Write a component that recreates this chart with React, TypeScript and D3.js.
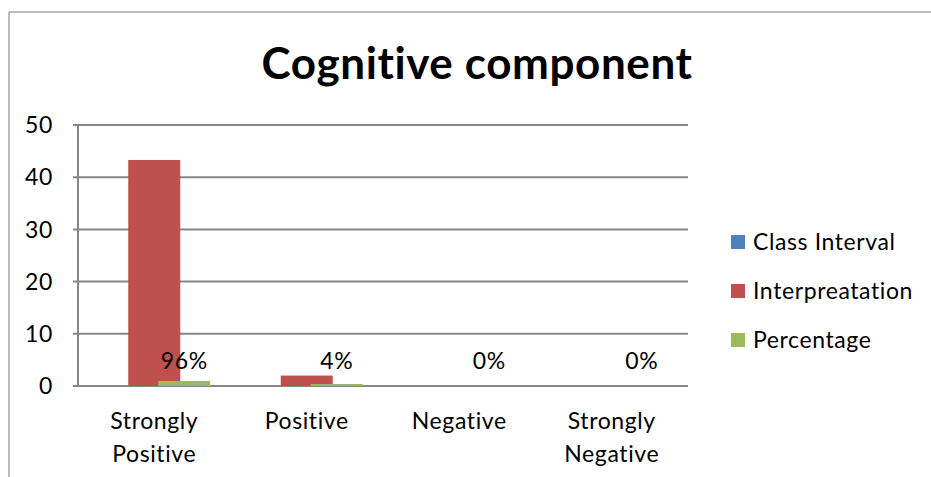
import React from "react";
import * as d3 from "d3";

const categories = ["Strongly Positive", "Positive", "Negative", "Strongly Negative"];
const seriesNames = ["Class Interval", "Interpreatation", "Percentage"];
const classInterval = [0, 0, 0, 0];
const interpretation = [43.3, 2, 0, 0];
const percentage = [0.96, 0.04, 0, 0];
const yTicks = [0, 10, 20, 30, 40, 50];
const colors = ["#4F81BD", "#C0504D", "#9BBB59"];

const W = 931;
const H = 477;
const FONT = "Lato, 'Open Sans', sans-serif";
const txt = { fontFamily: FONT, fontSize: 23, letterSpacing: 0.6, fontVariantLigatures: "none" as const };

export default function App() {
  const left = 78, right = 688, top = 125, bottom = 386;
  const x = d3.scaleBand<string>().domain(categories).range([left, right]).paddingInner(0).paddingOuter(0);
  const y = d3.scaleLinear().domain([0, 50]).range([bottom, top]);
  const series = [classInterval, interpretation, percentage];
  const barW = 52;
  const step = 30;
  const fmt = d3.format(".0%");

  return (
    <svg width={W} height={H} style={{ position: "absolute", left: 0, top: 0, background: "#fff" }}>
      <line x1={9} y1={12} x2={W} y2={12} stroke="#A6A6A6" strokeWidth={1.5} />
      <line x1={9} y1={12} x2={9} y2={H} stroke="#A6A6A6" strokeWidth={1.5} />
      <text x={477} y={79} textAnchor="middle" fontFamily={FONT} fontWeight={700} fontSize={44}
        letterSpacing={0.6} style={{ fontVariantLigatures: "none" }} fill="#000">
        Cognitive component
      </text>
      {yTicks.map((t) => (
        <g key={t}>
          <line x1={left - 5} x2={right} y1={y(t)} y2={y(t)} stroke="#868686" strokeWidth={2} />
          <text x={53} y={y(t)} dy="0.36em" textAnchor="end" style={txt} fill="#000">
            {t}
          </text>
        </g>
      ))}
      <line x1={left} x2={left} y1={top} y2={bottom + 1} stroke="#868686" strokeWidth={2} />
      {series.map((vals, si) =>
        vals.map((v, ci) => {
          const cx = (x(categories[ci]) as number) + x.bandwidth() / 2 + (si - 1) * step;
          const h = bottom - y(v);
          if (h <= 0) return null;
          return (
            <rect key={`${si}-${ci}`} x={cx - barW / 2} y={y(v) - (h < 2 ? 2 - h : 0)} width={barW}
              height={Math.max(h, 2)} fill={colors[si]} />
          );
        })
      )}
      {percentage.map((v, ci) => {
        const cx = (x(categories[ci]) as number) + x.bandwidth() / 2 + step;
        return (
          <text key={ci} x={cx} y={369} textAnchor="middle" style={txt} fill="#000">
            {fmt(v)}
          </text>
        );
      })}
      {categories.map((c) => {
        const cx = (x(c) as number) + x.bandwidth() / 2;
        const words = c.split(" ");
        return (
          <text key={c} x={cx} textAnchor="middle" style={txt} fill="#000">
            {words.map((w, i) => (
              <tspan key={i} x={cx} y={429 + i * 33}>{w}</tspan>
            ))}
          </text>
        );
      })}
      {seriesNames.map((s, i) => (
        <g key={s} transform={`translate(731, ${242 + i * 49})`}>
          <rect x={0} y={-7} width={14} height={14} fill={colors[i]} />
          <text x={22} y={0} dy="0.36em" style={txt} fill="#000">{s}</text>
        </g>
      ))}
    </svg>
  );
}
